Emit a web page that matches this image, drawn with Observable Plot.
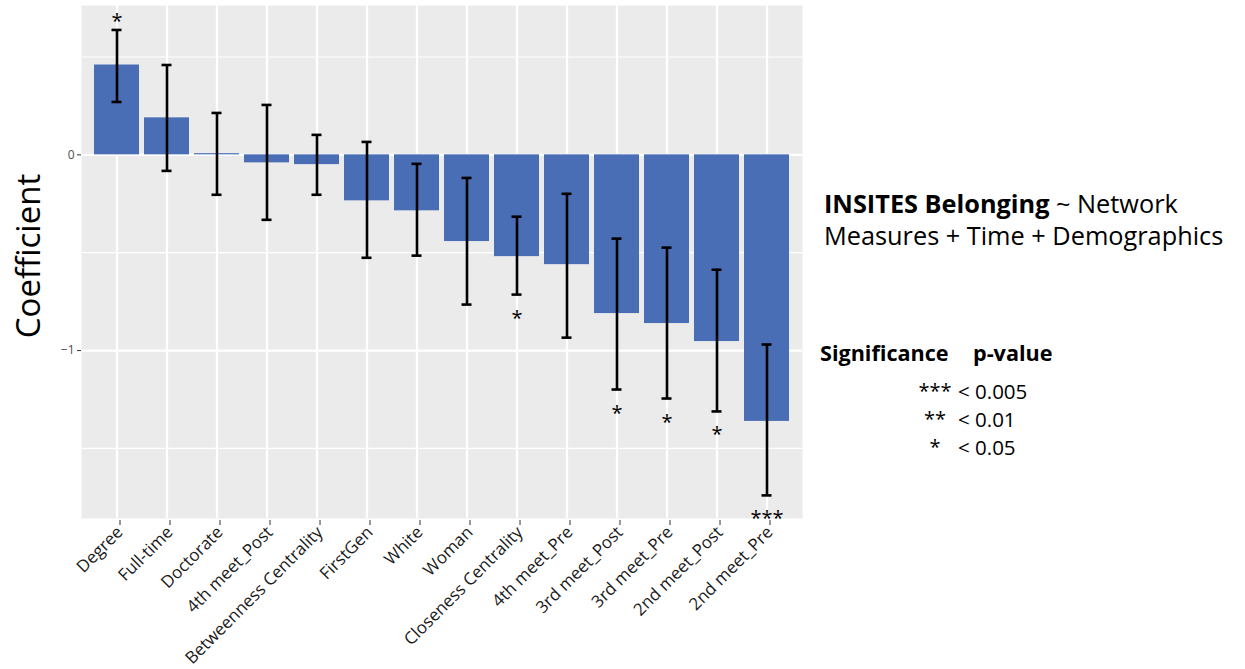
<!DOCTYPE html>
<html><head><meta charset="utf-8">
<script src="https://cdn.jsdelivr.net/npm/d3@7"></script>
<script src="https://cdn.jsdelivr.net/npm/@observablehq/plot@0.6"></script>
<style>
body{margin:0;background:#fff;font-family:"Open Sans",sans-serif;}
#wrap{position:relative;width:1245px;height:669px;}
#chart{position:absolute;left:0;top:0;}
#chart svg{overflow:visible;}
.abs{position:absolute;white-space:nowrap;color:#000;}
#ytitle{position:absolute;left:28px;top:256px;transform:translate(-50%,-50%) rotate(-90deg);font-size:33px;line-height:34px;white-space:nowrap;}
</style></head><body>
<div id="wrap">
<div id="chart"></div>
<div id="ytitle">Coefficient</div>
<div class="abs" style="left:824px;top:187px;font-size:25.3px;line-height:32px;"><b>INSITES Belonging</b> ~ Network<br>Measures + Time + Demographics</div>
<div class="abs" style="left:820px;top:343px;font-size:21.6px;line-height:20px;font-weight:bold;">Significance</div>
<div class="abs" style="left:973px;top:343px;font-size:21.6px;line-height:20px;font-weight:bold;">p-value</div>
<div id="legrows"></div>
</div>
<script>
const terms = ["Degree","Full-time","Doctorate","4th meet_Post","Betweenness Centrality","FirstGen","White","Woman","Closeness Centrality","4th meet_Pre","3rd meet_Post","3rd meet_Pre","2nd meet_Post","2nd meet_Pre"];
const coef  = [0.459, 0.189, 0.006, -0.041, -0.050, -0.235, -0.286, -0.443, -0.520, -0.561, -0.811, -0.862, -0.954, -1.362];
const lower = [0.270, -0.082, -0.204, -0.332, -0.204, -0.526, -0.515, -0.765, -0.714, -0.934, -1.199, -1.245, -1.311, -1.740];
const upper = [0.638, 0.459, 0.214, 0.255, 0.102, 0.066, -0.046, -0.118, -0.316, -0.199, -0.428, -0.474, -0.587, -0.969];
const sig   = ["*","","","","","","","","*","","*","*","*","***"];
const yTicks = [0, -1];
const yMinor = [0.5, -0.5, -1.5];
const legendStars = ["***","**","*"];
const legendP = ["< 0.005","< 0.01","< 0.05"];

const rows = terms.map((t,i)=>({term:t, coef:coef[i], lo:lower[i], hi:upper[i], sig:sig[i]}));
const sigRows = rows.filter(d=>d.sig);

const plot = Plot.plot({
  width: 810, height: 669,
  marginLeft: 81, marginRight: 8, marginTop: 5, marginBottom: 151,
  style: {fontFamily: "Open Sans, sans-serif", background: "transparent", overflow: "visible"},
  x: {domain: terms, paddingInner: 0.1, paddingOuter: 0.15, label: null},
  y: {domain: [-1.858, 0.763], label: null},
  marks: [
    Plot.frame({fill: "#EBEBEB", stroke: "none"}),
    Plot.ruleY(yMinor, {stroke: "#ffffff", strokeWidth: 1.2}),
    Plot.ruleY(yTicks, {stroke: "#ffffff", strokeWidth: 2.2}),
    Plot.ruleX(terms, {x: d=>d, stroke: "#ffffff", strokeWidth: 2.2}),
    Plot.barY(rows, {x: "term", y1: 0, y2: "coef", fill: "#4a6eb5"}),
    Plot.ruleX(rows, {x: "term", y1: "lo", y2: "hi", stroke: "#000", strokeWidth: 2.6}),
    Plot.tickY(rows, {x: "term", y: "hi", stroke: "#000", strokeWidth: 2.6, insetLeft: 17.5, insetRight: 17.5}),
    Plot.tickY(rows, {x: "term", y: "lo", stroke: "#000", strokeWidth: 2.6, insetLeft: 17.5, insetRight: 17.5}),
    Plot.text(sigRows.filter(d=>d.coef>0), {x: "term", y: "hi", text: "sig", fontSize: 20, fill: "#000", lineAnchor: "bottom", dy: -2}),
    Plot.text(sigRows.filter(d=>d.coef<=0), {x: "term", y: "lo", text: "sig", fontSize: 20, fill: "#000", lineAnchor: "bottom", dy: 30}),
    Plot.axisY({ticks: yTicks, tickFormat: d3.format("d"), tickSize: 4, tickPadding: 3, fontSize: 12, stroke: "#333", fill: "#4d4d4d", label: null}),
    Plot.axisX({tickRotate: -45, tickSize: 5, tickPadding: 4, fontSize: 17, stroke: "#333", fill: "#1a1a1a", label: null, dx: 3, dy: 2})
  ]
});
document.getElementById("chart").appendChild(plot);

const lr = document.getElementById("legrows");
const baseTops = [381, 409, 437];
legendStars.forEach((s,i)=>{
  const a = document.createElement("div");
  a.className = "abs";
  a.style.cssText = `left:935px;top:${baseTops[i]}px;font-size:20px;line-height:20px;transform:translateX(-50%);`;
  a.textContent = s;
  lr.appendChild(a);
  const b = document.createElement("div");
  b.className = "abs";
  b.style.cssText = `left:958px;top:${baseTops[i]}px;font-size:20.5px;line-height:20px;`;
  b.textContent = legendP[i];
  lr.appendChild(b);
});
</script>
</body></html>
